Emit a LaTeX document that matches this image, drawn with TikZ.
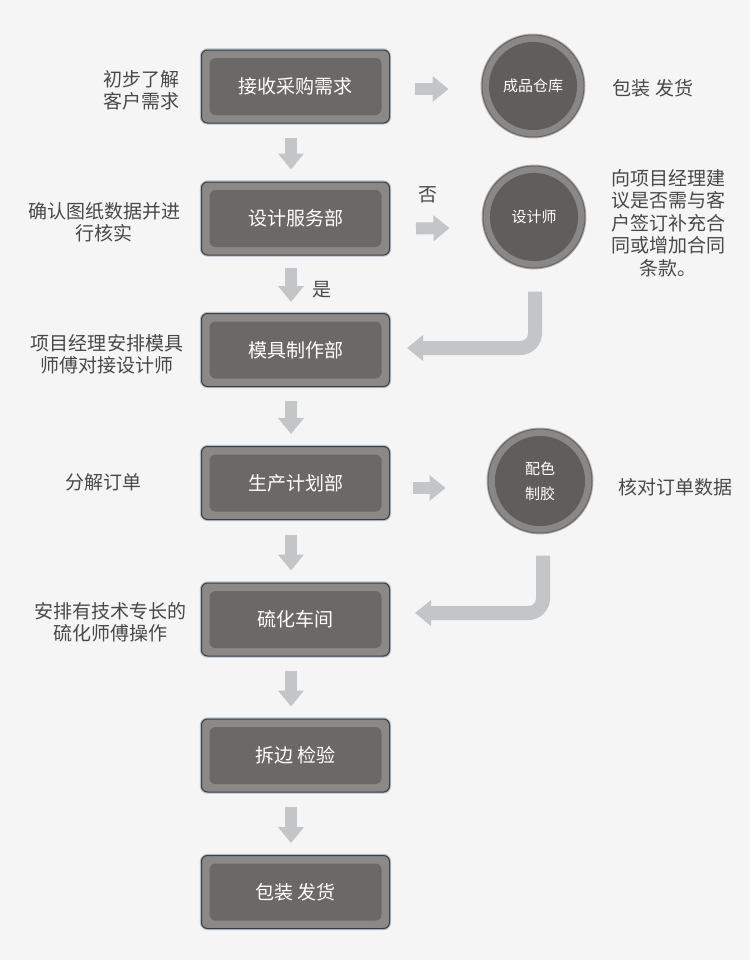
\documentclass[tikz,border=0pt]{standalone}
\usepackage{fontspec}
\setmainfont{Noto Sans CJK SC}
\usetikzlibrary{arrows.meta,calc}
\definecolor{bgc}{HTML}{F5F5F5}
\definecolor{framec}{HTML}{8B8987}
\definecolor{innerc}{HTML}{6B6967}
\definecolor{edgec}{HTML}{3E3E3E}
\definecolor{haloc}{HTML}{B2BFCC}
\definecolor{ringc}{HTML}{8A8886}
\definecolor{discc}{HTML}{605E5C}
\definecolor{arrc}{HTML}{C4C5C7}
\definecolor{labc}{HTML}{484848}
\tikzset{
  stepbox/.style={rectangle, rounded corners=4.5pt, minimum width=141pt, minimum height=54.75pt,
    fill=framec, draw=edgec, line width=0.75pt, preaction={draw=haloc, line width=2.4pt},
    text=white, font=\fontsize{14.25}{17}\selectfont, inner sep=0pt,
    path picture={\fill[innerc] ([shift={(6pt,-6pt)}]path picture bounding box.north west) rectangle ([shift={(-6pt,6pt)}]path picture bounding box.south east);}},
  disc/.style={circle, minimum size=#1, fill=ringc, draw=edgec!80, line width=0.75pt,
    preaction={draw=black!30, line width=2.2pt}, inner sep=0pt,
    text=white, font=\fontsize{11.25}{18.75}\selectfont, align=center,
    path picture={\fill[discc] (path picture bounding box.center) circle ({#1/2-5.2pt});}},
  lab/.style={text=labc, font=\fontsize{14.25}{16.5}\selectfont, align=center, inner sep=0pt},
  fatarr/.style={draw=arrc, line width=9pt, -{Triangle[width=18.75pt,length=12pt]}},
  bendarr/.style={draw=arrc, line width=10.5pt, rounded corners=11pt, -{Triangle[width=18.75pt,length=12pt]}},
}
\begin{document}
\begin{tikzpicture}[x=0.75pt,y=-0.75pt]
\fill[bgc] (0,0) rectangle (750,960);
\useasboundingbox (0,0) rectangle (750,960);

% main boxes
\node[stepbox] (b1) at (295.5,86.5) {接收采购需求};
\node[stepbox] (b2) at (295.5,218.5) {设计服务部};
\node[stepbox] (b3) at (295.5,350) {模具制作部};
\node[stepbox] (b4) at (295.5,483) {生产计划部};
\node[stepbox] (b5) at (295.5,619.5) {硫化车间};
\node[stepbox] (b6) at (295.5,755.5) {拆边 检验};
\node[stepbox] (b7) at (295.5,892) {包装 发货};

% circles
\node[disc=76.5pt] (c1) at (533,86) {成品仓库};
\node[disc=76.5pt] (c2) at (534,217) {设计师};
\node[disc=78pt] (c3) at (540,481) {配色\\制胶};

% down arrows
\draw[fatarr] ($(b1.south)+(-4.5,14)$) -- ($(b2.north)+(-4.5,-12)$);
\draw[fatarr] ($(b2.south)+(-4.5,12)$) -- ($(b3.north)+(-4.5,-11)$);
\draw[fatarr] ($(b3.south)+(-4.5,14)$) -- ($(b4.north)+(-4.5,-12)$);
\draw[fatarr] ($(b4.south)+(-4.5,15)$) -- ($(b5.north)+(-4.5,-12)$);
\draw[fatarr] ($(b5.south)+(-4.5,14)$) -- ($(b6.north)+(-4.5,-12)$);
\draw[fatarr] ($(b6.south)+(-4.5,14)$) -- ($(b7.north)+(-4.5,-12)$);

% right arrows
\draw[fatarr] ($(b1.east)+(25,2.5)$) -- ($(c1.west)+(-33,3)$);
\draw[fatarr] ($(b2.east)+(26,10)$) -- ($(c2.west)+(-33,11)$);
\draw[fatarr] ($(b4.east)+(23,5)$) -- ($(c3.west)+(-42,7)$);

% bent arrows
\draw[bendarr] ($(c2.south)+(1,23)$) |- ($(b3.east)+(17,-2)$);
\draw[bendarr] ($(c3.south)+(3,22)$) |- ($(b5.east)+(25,-6.5)$);

% labels
\node[lab] (l1) at (141,90) {初步了解\\客户需求};
\node[lab] (l2) at (104,222.5) {确认图纸数据并进\\行核实};
\node[lab] (l3) at (107,354) {项目经理安排模具\\师傅对接设计师};
\node[lab] (l4) at (103.5,482) {分解订单};
\node[lab] (l5) at (110,622.5) {安排有技术专长的\\硫化师傅操作};
\node[lab] (r1) at (653,88) {包装 发货};
\node[lab, font=\fontsize{14.25}{16.9}\selectfont] (r2) at (668,223) {向项目经理建\\议是否需与客\\户签订补充合\\同或增加合同\\条款。};
\node[lab] (r3) at (675,487) {核对订单数据};
\node[lab] (no) at (428,195) {否};
\node[lab] (yes) at (322,290) {是};
\end{tikzpicture}
\end{document}
